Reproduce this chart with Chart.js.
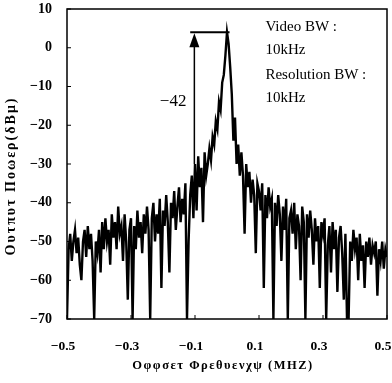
<!DOCTYPE html>
<html><head><meta charset="utf-8">
<script src="https://cdn.jsdelivr.net/npm/chart.js@4"></script>
<style>html,body{margin:0;padding:0;background:#fff}#wrap{width:392px;height:383px}</style>
</head><body><div id="wrap"><canvas id="c" width="392" height="383"></canvas></div>
<script>
const xStart = -0.5, xStep = 0.005;
const powerDbm = [
 -70,-52,-48,-55,-50,-47,-53,-49,-56,-60,
 -50,-47,-54,-46,-52,-48,-55,-70,-50,-53,
 -47,-58,-45,-52,-44,-50,-47,-56,-43,-49,
 -45,-52,-41,-48,-46,-55,-43,-50,-65,-47,
 -44,-70,-46,-52,-42,-49,-45,-53,-43,-48,
 -41,-47,-70,-44,-40,-50,-43,-48,-39,-62,
 -42,-46,-38,-45,-58,-40,-44,-37,-47,-41,
 -36,-45,-39,-43,-35,-70,-50,-38,-33,-44,
 -30,-42,-28,-36,-31,-45,-27,-33,-30,-26,
 -29,-23,-25,-19,-21,-14,-16,-9,-7,-2,
 4,
 1,-5,-12,-24,-18,-30,-25,-33,-27,
 -33,-48,-30,-36,-32,-40,-34,-38,-53,-35,
 -37,-42,-35,-62,-38,-44,-36,-41,-39,-70,
 -40,-46,-38,-43,-55,-41,-47,-39,-70,-44,
 -42,-48,-40,-52,-43,-46,-60,-41,-45,-70,
 -43,-49,-42,-47,-56,-44,-50,-46,-62,-45,
 -48,-44,-70,-51,-46,-58,-45,-52,-47,-63,
 -49,-46,-53,-65,-48,-70,-70,-50,-55,-47,
 -52,-49,-60,-48,-55,-51,-62,-50,-54,-49,
 -56,-51,-53,-50,-64,-52,-55,-50,-57,-52,-54
];
const xTicks = [-0.5,-0.3,-0.1,0.1,0.3,0.5];
const yTicks = [-70,-60,-50,-40,-30,-20,-10,0,10];
const infoLines = ["Video BW :","10kHz","Resolution BW :","10kHz"];
const diffLabel = "\u221242";
const xTitle = "\u039f\u03c6\u03c6\u03c3\u03b5\u03c4 \u03a6\u03c1\u03b5\u03b8\u03c5\u03b5\u03bd\u03c7\u03c8 (\u039c\u0397\u0396)";
const yTitle = "\u039f\u03c5\u03c4\u03c0\u03c5\u03c4 \u03a0\u03bf\u03c9\u03b5\u03c1(\u03b4\u0392\u03bc)";

const pts = powerDbm.map((v,i)=>({x: +(xStart + i*xStep).toFixed(3), y: v}));
const fmt = v => (v<0?"\u2212":"") + Math.abs(v);

const deco = {
  id:'deco',
  afterDraw(chart){
    const {ctx, chartArea:a, scales:{x,y}} = chart;
    ctx.save();
    ctx.strokeStyle='#000'; ctx.fillStyle='#000';
    ctx.lineWidth=1.5;
    ctx.strokeRect(a.left,a.top,a.right-a.left,a.bottom-a.top);
    ctx.lineWidth=1;
    yTicks.forEach(t=>{const py=y.getPixelForValue(t);ctx.beginPath();ctx.moveTo(a.left,py);ctx.lineTo(a.left+4,py);ctx.stroke();});
    xTicks.forEach(t=>{const px=x.getPixelForValue(t);ctx.beginPath();ctx.moveTo(px,a.bottom);ctx.lineTo(px,a.bottom-4);ctx.stroke();});
    const yPk=y.getPixelForValue(4);
    ctx.lineWidth=2.2;
    ctx.beginPath();ctx.moveTo(x.getPixelForValue(-0.115),yPk);ctx.lineTo(x.getPixelForValue(0.008),yPk);ctx.stroke();
    const ax=x.getPixelForValue(-0.102);
    ctx.lineWidth=1.5;
    ctx.beginPath();ctx.moveTo(ax,y.getPixelForValue(-30));ctx.lineTo(ax,yPk+12);ctx.stroke();
    ctx.beginPath();ctx.moveTo(ax,yPk+1);ctx.lineTo(ax-5,yPk+15);ctx.lineTo(ax+5,yPk+15);ctx.closePath();ctx.fill();
    ctx.font='17px "Liberation Serif"';
    ctx.textAlign='left';ctx.textBaseline='middle';
    ctx.fillText(diffLabel, x.getPixelForValue(-0.21), y.getPixelForValue(-14));
    ctx.font='15px "Liberation Serif"';
    const lx=x.getPixelForValue(0.12);
    [27,50,75,98].forEach((py,i)=>ctx.fillText(infoLines[i],lx,py));
    ctx.textAlign='center';
    ctx.font='bold 12.5px "Liberation Serif"';
    ctx.letterSpacing='1.5px';
    ctx.fillText(xTitle,(a.left+a.right)/2-4,366);
    ctx.save();
    ctx.translate(11,176);ctx.rotate(-Math.PI/2);
    ctx.font='bold 14px "Liberation Serif"';
    ctx.letterSpacing='2px';
    ctx.fillText(yTitle,0,0);
    ctx.restore();
    ctx.restore();
  }
};

new Chart(document.getElementById('c'),{
  type:'line',
  data:{datasets:[{data:pts,borderColor:'#000',borderWidth:2.4,pointRadius:0,tension:0,fill:false}]},
  options:{
    responsive:false,animation:false,
    layout:{padding:{top:9,right:5,left:0,bottom:0}},
    plugins:{legend:{display:false},tooltip:{enabled:false}},
    scales:{
      x:{type:'linear',min:-0.5,max:0.5,
        afterBuildTicks:s=>{s.ticks=xTicks.map(v=>({value:v}));},
        afterFit:s=>{s.height=64;s.paddingLeft=0;s.paddingRight=0;},
        grid:{display:false,drawTicks:false},border:{display:false},
        ticks:{padding:19,labelOffset:-4,color:'#000',font:{family:'Liberation Serif',size:13.5,weight:'bold'},maxRotation:0,
          callback:v=>(v<0?"\u2212":"")+Math.abs(v).toFixed(1)}
      },
      y:{min:-70,max:10,
        afterBuildTicks:s=>{s.ticks=yTicks.map(v=>({value:v}));},
        afterFit:s=>{s.width=67;s.paddingTop=0;s.paddingBottom=0;},
        grid:{display:false,drawTicks:false},border:{display:false},
        ticks:{padding:15,color:'#000',font:{family:'Liberation Serif',size:14,weight:'bold'},callback:fmt}
      }
    }
  },
  plugins:[deco]
});
</script></body></html>
